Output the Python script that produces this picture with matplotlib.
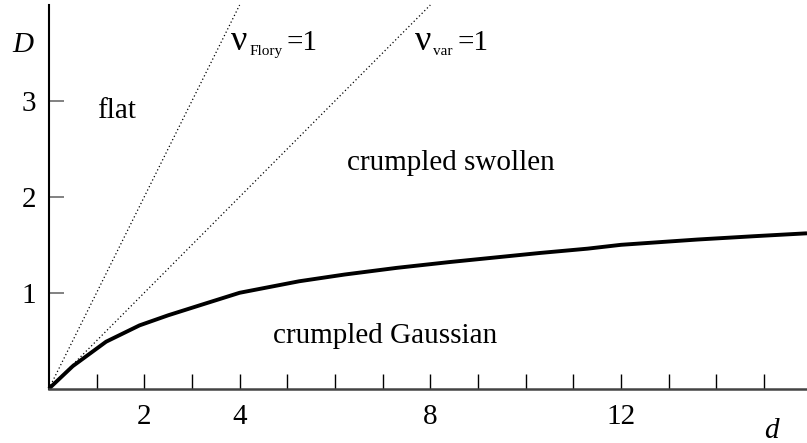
import matplotlib.pyplot as plt
import numpy as np

plt.rcParams['font.family'] = ['Liberation Serif', 'DejaVu Serif']

d_pts = [0, 0.5, 1.2, 1.9, 2.5, 3.2, 4.0, 5.25, 6.2, 7.3, 8.4, 9.4, 10.3,
         11.3, 12.0, 13.6, 14.8, 15.9]
D_pts = [0, 0.235, 0.49, 0.66, 0.765, 0.875, 1.0, 1.12, 1.19, 1.26, 1.32,
         1.37, 1.415, 1.46, 1.50, 1.555, 1.59, 1.62]

# straight nu = 1 lines (end points)
flory_d = [0, 4.0]
flory_D = [0, 4.0]
var_d = [0, 8.0]
var_D = [0, 4.0]

xticks = list(range(1, 16))
xlabels = {2: '2', 4: '4', 8: '8', 12: '12'}
yticks = [1, 2, 3]

fig = plt.figure(figsize=(8.07, 4.43), dpi=100)
ax = fig.add_axes([48.9 / 807, 54.3 / 443, (807 - 48.9) / 807, 383.7 / 443])
ax.set_xlim(0, 15.9)
ax.set_ylim(0, 4.0)

ax.plot(flory_d, flory_D, color='black', lw=0.9, ls=(0, (1, 2)), clip_on=False)
ax.plot(var_d, var_D, color='black', lw=0.9, ls=(0, (1, 2)), clip_on=False)
ax.plot(d_pts, D_pts, color='black', lw=2.8, solid_capstyle='butt',
        solid_joinstyle='round', clip_on=False)

for s in ['top', 'right']:
    ax.spines[s].set_visible(False)
ax.spines['left'].set_linewidth(1.5)
ax.spines['bottom'].set_linewidth(1.8)
ax.spines['bottom'].set_color('#444444')

ax.set_xticks(xticks)
ax.set_xticklabels([xlabels.get(t, '') for t in xticks])
ax.set_yticks(yticks)
ax.set_yticklabels([str(t) for t in yticks])
ax.tick_params(axis='x', direction='in', length=11, width=1.0, color='black',
               pad=11, labelsize=21)
ax.tick_params(axis='y', direction='in', length=11, width=1.3, color='#777777',
               pad=9, labelsize=21)

ax.text(-0.54, 3.58, 'D', fontsize=21, style='italic', ha='center', va='center',
        clip_on=False)
ax.text(15.15, -0.44, 'd', fontsize=21, style='italic', ha='center', va='center',
        clip_on=False)

ax.text(1.0, 2.9, 'flat', fontsize=21, ha='left', va='center')
ax.text(6.25, 2.35, 'crumpled swollen', fontsize=21, ha='left', va='center')
ax.text(4.7, 0.55, 'crumpled Gaussian', fontsize=21, ha='left', va='center')

ax.text(3.81, 3.62, 'ν', fontsize=26, ha='left', va='center')
ax.text(4.2, 3.52, 'Flory', fontsize=11, ha='left', va='center')
ax.text(4.99, 3.6, '=1', fontsize=21, ha='left', va='center')
ax.text(7.67, 3.62, 'ν', fontsize=26, ha='left', va='center')
ax.text(8.06, 3.52, 'var', fontsize=11, ha='left', va='center')
ax.text(8.57, 3.6, '=1', fontsize=21, ha='left', va='center')

fig.savefig('out.png', dpi=100)
